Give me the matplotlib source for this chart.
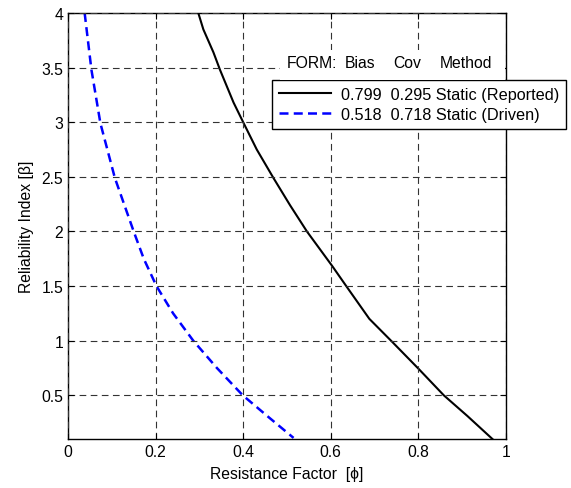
import matplotlib
matplotlib.use("Agg")
import matplotlib.pyplot as plt
from matplotlib.patches import Rectangle

plt.rcParams['font.family'] = ['Liberation Sans', 'DejaVu Sans']

# Static (Reported): Bias 0.799, Cov 0.295
beta_rep = [4.0, 3.85, 3.64, 3.48, 3.18, 3.0, 2.75, 2.49, 2.24, 2.0, 1.685, 1.49,
            1.20, 0.99, 0.74, 0.50, 0.31, 0.10]
phi_rep = [0.2975, 0.309, 0.332, 0.347, 0.378, 0.400, 0.431, 0.469, 0.507, 0.5455,
           0.603, 0.637, 0.688, 0.740, 0.801, 0.858, 0.912, 0.969]

# Static (Driven): Bias 0.518, Cov 0.718
beta_drv = [4.0, 3.48, 2.99, 2.49, 2.0, 1.75, 1.5, 1.25, 1.0, 0.75, 0.5, 0.3, 0.11]
phi_drv = [0.038, 0.0535, 0.074, 0.107, 0.150, 0.173, 0.202, 0.240, 0.286, 0.340,
           0.399, 0.458, 0.515]

labels = ["0.799  0.295 Static (Reported)", "0.518  0.718 Static (Driven)"]
header_words = ["FORM:", "Bias", "Cov", "Method"]
xticks = [0, 0.2, 0.4, 0.6, 0.8, 1]
yticks = [0.5, 1, 1.5, 2, 2.5, 3, 3.5, 4]
ytick_labels = ["0.5", "1", "1.5", "2", "2.5", "3", "3.5", "4"]
xtick_labels = ["0", "0.2", "0.4", "0.6", "0.8", "1"]

FS = 11.3
W, H = 571, 489
fig = plt.figure(figsize=(W / 100, H / 100), dpi=100)
ax = fig.add_axes([68 / W, 1 - 440 / H, (506 - 68) / W, (440 - 14) / H])

ax.plot(phi_rep, beta_rep, color='black', lw=1.5, label=labels[0])
ax.plot(phi_drv, beta_drv, color='#0000ff', lw=1.8, dashes=(3.6, 2.1), label=labels[1])

ax.set_xlim(0, 1)
ax.set_ylim(0.1, 4)
ax.set_xticks(xticks)
ax.set_xticklabels(xtick_labels)
ax.set_yticks(yticks)
ax.set_yticklabels(ytick_labels)
ax.tick_params(direction='in', top=True, right=True, length=4, labelsize=FS, width=0.8)
ax.grid(True, color='#333333', lw=0.8, dashes=(6, 4))
ax.set_axisbelow(False)
for s in ax.spines.values():
    s.set_linewidth(1.0)

ax.set_xlabel("Resistance Factor  [ϕ]", fontsize=FS, labelpad=5)
ax.set_ylabel("Reliability Index [β]", fontsize=FS, labelpad=5)

# white box behind header text
fig.patches.append(Rectangle((280 / W, 1 - 81 / H), (505 - 280) / W, (81 - 51) / H,
                             transform=fig.transFigure, facecolor='white',
                             edgecolor='none', zorder=4))
for word, xp in zip(header_words, [287, 345, 393, 440]):
    fig.text(xp / W, 1 - 68 / H, word, fontsize=FS, ha='left', va='baseline', zorder=5)

leg = ax.legend(loc='upper left', bbox_to_anchor=(272 / W, 1 - 81 / H),
                bbox_transform=fig.transFigure, borderaxespad=0, fontsize=11.7,
                handlelength=3.2, handletextpad=0.65, fancybox=False,
                edgecolor='black', framealpha=1, borderpad=0.42, labelspacing=0.3)
leg.get_frame().set_linewidth(1.0)
leg.set_zorder(6)

fig.savefig("out.png", dpi=100)
